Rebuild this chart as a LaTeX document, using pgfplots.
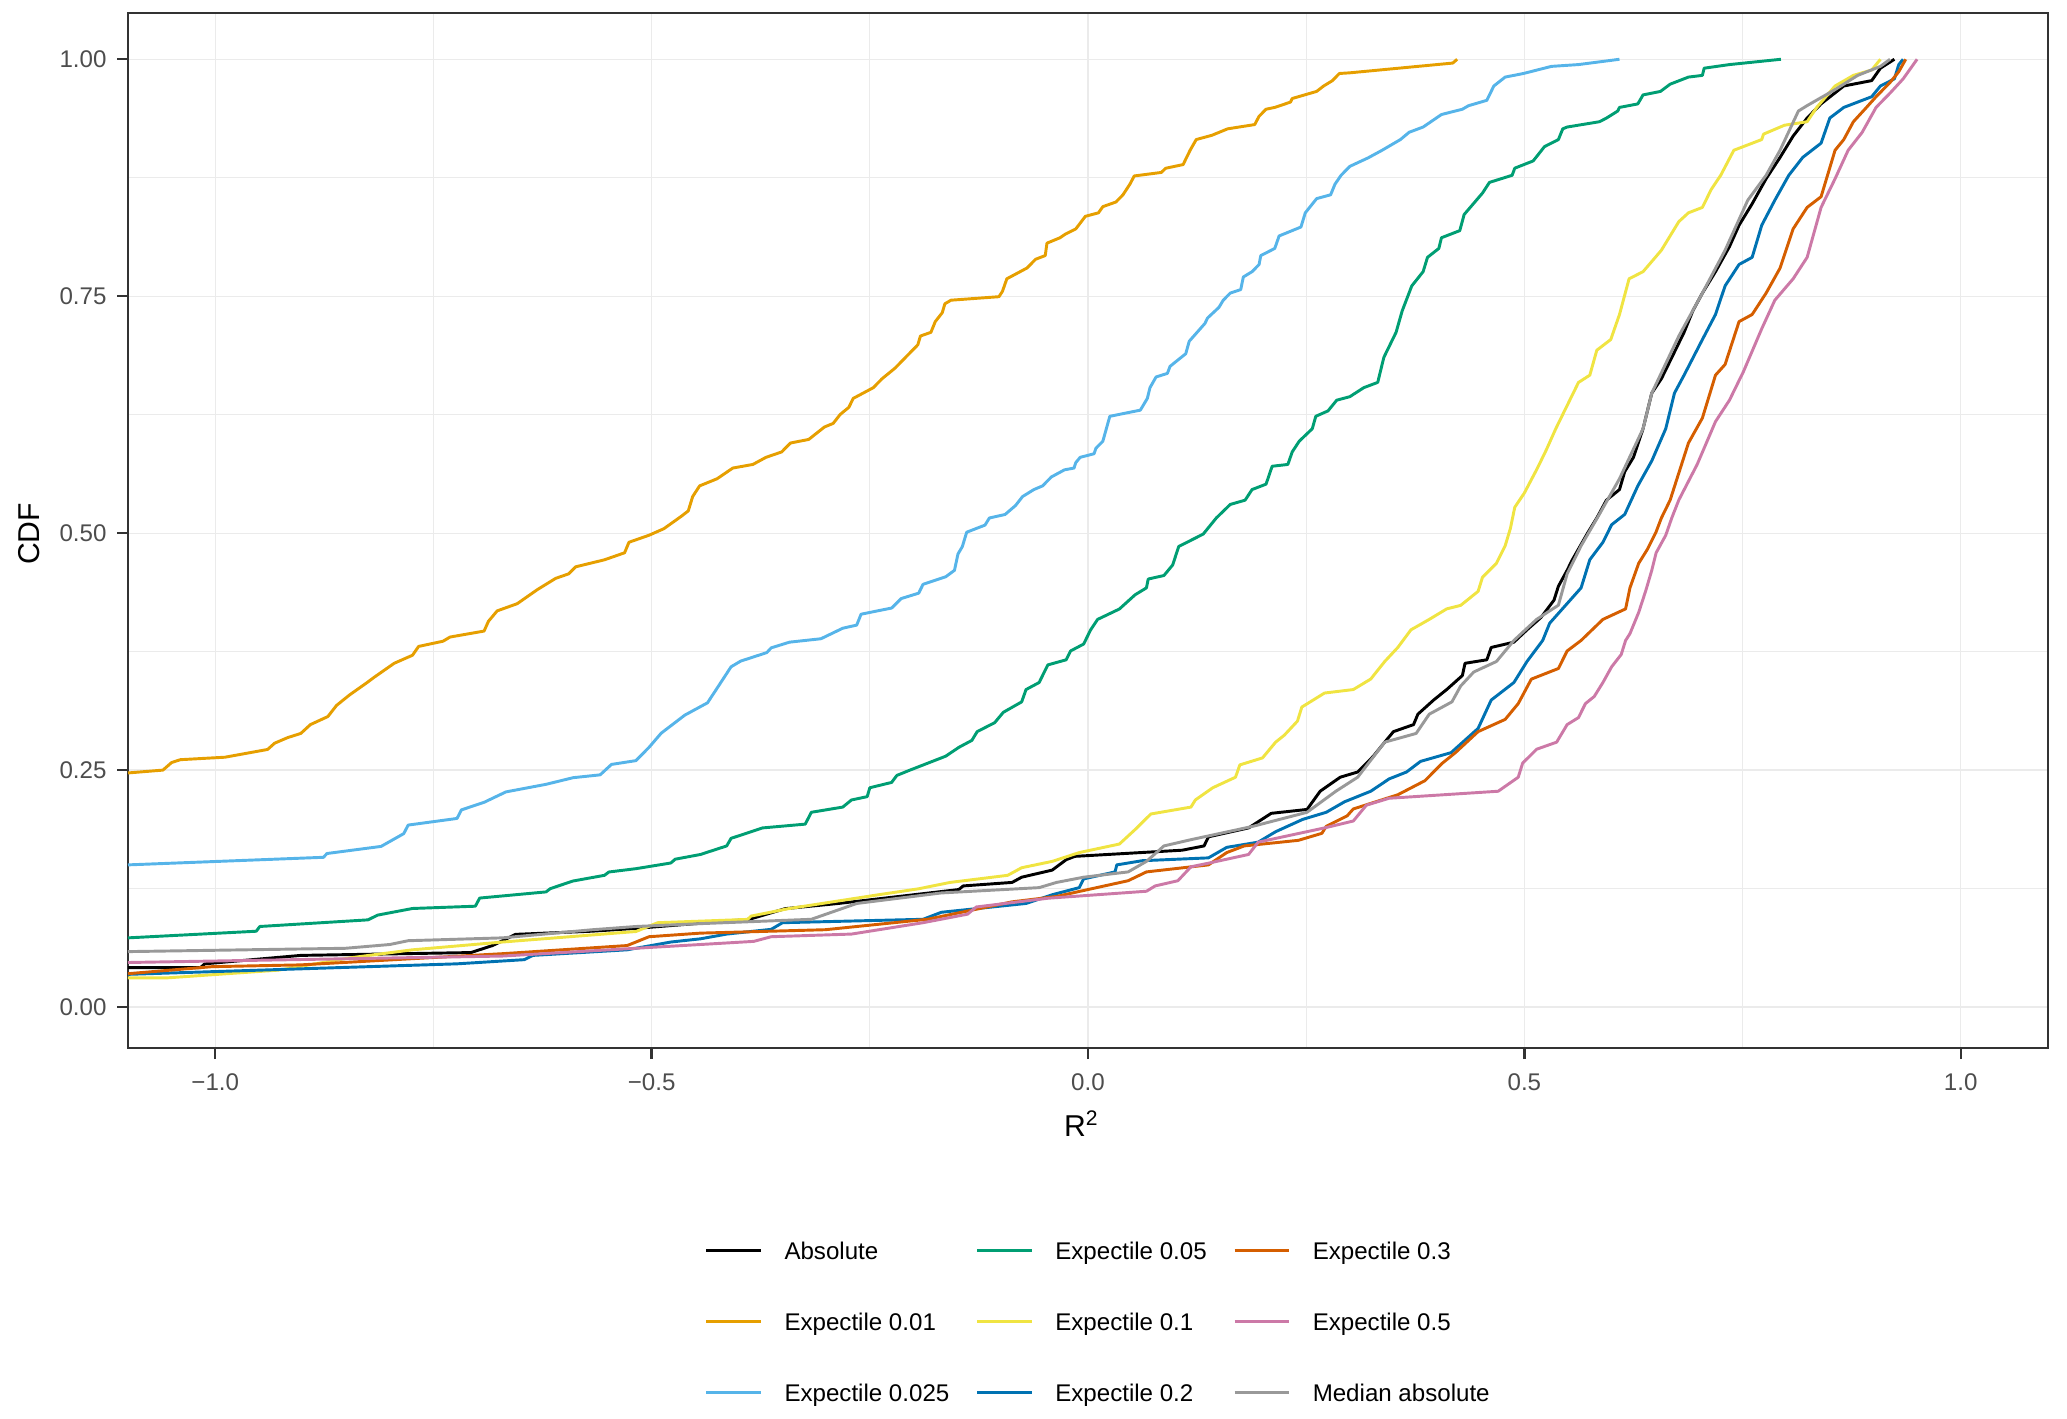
\documentclass[border=0pt]{standalone}
\usepackage{fontspec}
\setmainfont{Liberation Sans}
\usepackage{pgfplots}
\pgfplotsset{compat=1.18}
\usetikzlibrary{calc}
\definecolor{grey20}{HTML}{333333}
\definecolor{grey30}{HTML}{4D4D4D}
\definecolor{grey92}{HTML}{EBEBEB}
\definecolor{cAbs}{HTML}{000000}
\definecolor{cA}{HTML}{E69F00}
\definecolor{cB}{HTML}{56B4E9}
\definecolor{cC}{HTML}{009E73}
\definecolor{cD}{HTML}{F0E442}
\definecolor{cE}{HTML}{0072B2}
\definecolor{cF}{HTML}{D55E00}
\definecolor{cG}{HTML}{CC79A7}
\definecolor{cMed}{HTML}{999999}
\begin{document}
\begin{tikzpicture}
\begin{axis}[
  scale only axis, width=700.8pt, height=377.8pt,
  xmin=-1.1, xmax=1.1, ymin=-0.0435, ymax=1.0486,
  xtick={-1,-0.5,0,0.5,1}, xticklabels={−1.0,−0.5,0.0,0.5,1.0},
  ytick={0,0.25,0.5,0.75,1}, yticklabels={0.00,0.25,0.50,0.75,1.00},
  minor xtick={-0.75,-0.25,0.25,0.75},
  minor ytick={0.125,0.375,0.625,0.875},
  grid=both,
  major grid style={draw=grey92, line width=0.45pt},
  minor grid style={draw=grey92, line width=0.3pt},
  axis line style={draw=grey20, line width=0.85pt},
  tick pos=left, tick align=outside,
  major tick length=4pt, minor tick length=0pt,
  tick style={draw=grey20, line width=0.85pt},
  ticklabel style={font=\fontsize{8.8}{10}\selectfont, text=grey30},
  xticklabel style={anchor=north, inner sep=0pt, text height=6.3pt, text depth=0pt},
  yticklabel style={anchor=east, inner sep=0pt},
  xticklabel shift=4.76pt, yticklabel shift=3.67pt,
  xlabel={R\textsuperscript{2}}, ylabel={CDF},
  label style={font=\fontsize{11}{13}\selectfont, text=black},
  xlabel style={at={(axis description cs:0.4966,-0.085)}, anchor=base, inner sep=0pt},
  ylabel style={at={(axis description cs:-0.0516,0.497)}, anchor=center, inner sep=0pt},
  legend columns=3, transpose legend,
  legend cell align=left,
  legend style={at={(axis description cs:0.3005,-0.1872)}, anchor=north west,
    draw=none, fill=none, inner sep=0pt, outer sep=0pt,
    font=\fontsize{8.8}{10}\selectfont,
    row sep=17.6pt,
    nodes={inner sep=0pt, text height=6.4pt, text depth=1.9pt},
    cells={anchor=base west},
    /tikz/every odd column/.append style={column sep=7.96pt},
    /tikz/every even column/.append style={column sep=9.65pt}},
  legend image code/.code={\draw[#1, line width=1.07pt] (0pt,3.15pt) -- (20pt,3.15pt);},
  every axis plot/.append style={line width=1.07pt, line join=round, no markers},
]
\addplot[cAbs] coordinates {(-1.1,0.0416) (-1.017,0.0416) (-1.012,0.0456) (-0.902,0.0545) (-0.707,0.0575) (-0.682,0.065) (-0.656,0.0767) (-0.569,0.080) (-0.518,0.083) (-0.388,0.0926) (-0.347,0.1038) (-0.286,0.1093) (-0.148,0.124) (-0.143,0.1278) (-0.087,0.1315) (-0.076,0.137) (-0.041,0.1445) (-0.025,0.1555) (-0.015,0.159) (0.108,0.1655) (0.133,0.170) (0.138,0.1796) (0.184,0.189) (0.210,0.2044) (0.251,0.2085) (0.266,0.2277) (0.289,0.2425) (0.309,0.248) (0.327,0.2647) (0.340,0.2795) (0.350,0.2906) (0.373,0.298) (0.378,0.309) (0.396,0.3239) (0.411,0.335) (0.429,0.3498) (0.432,0.3627) (0.457,0.3664) (0.462,0.3794) (0.488,0.385) (0.503,0.398) (0.519,0.411) (0.534,0.4294) (0.539,0.444) (0.549,0.4608) (0.555,0.472) (0.573,0.501) (0.583,0.516) (0.594,0.5348) (0.609,0.546) (0.615,0.5649) (0.625,0.58) (0.636,0.6102) (0.646,0.6478) (0.657,0.6629) (0.667,0.6817) (0.683,0.7119) (0.693,0.7345) (0.704,0.7533) (0.719,0.7759) (0.735,0.8023) (0.746,0.8249) (0.761,0.8475) (0.777,0.874) (0.793,0.8965) (0.808,0.919) (0.824,0.938) (0.840,0.953) (0.866,0.9718) (0.898,0.9775) (0.908,0.9906) (0.924,1.0)};
\addlegendentry{Absolute}
\addplot[cA] coordinates {(-1.1,0.247) (-1.06,0.25) (-1.05,0.258) (-1.04,0.261) (-0.989,0.2636) (-0.94,0.2718) (-0.932,0.2784) (-0.917,0.2843) (-0.902,0.2887) (-0.891,0.298) (-0.871,0.3065) (-0.861,0.3183) (-0.846,0.3294) (-0.826,0.3424) (-0.818,0.3479) (-0.795,0.3627) (-0.774,0.3712) (-0.767,0.3805) (-0.739,0.386) (-0.731,0.3904) (-0.692,0.3967) (-0.687,0.407) (-0.677,0.418) (-0.654,0.4256) (-0.631,0.4404) (-0.610,0.4523) (-0.595,0.4571) (-0.587,0.4645) (-0.554,0.4719) (-0.531,0.4793) (-0.526,0.4904) (-0.503,0.4978) (-0.486,0.5047) (-0.466,0.5178) (-0.458,0.5235) (-0.453,0.5386) (-0.445,0.5499) (-0.425,0.5574) (-0.407,0.5687) (-0.384,0.5725) (-0.369,0.58) (-0.351,0.5857) (-0.341,0.5951) (-0.320,0.5989) (-0.302,0.612) (-0.292,0.6158) (-0.284,0.6252) (-0.274,0.6328) (-0.269,0.6422) (-0.246,0.6535) (-0.236,0.6629) (-0.221,0.6742) (-0.205,0.6893) (-0.195,0.6987) (-0.192,0.708) (-0.180,0.7119) (-0.175,0.7232) (-0.167,0.7326) (-0.164,0.742) (-0.157,0.7458) (-0.102,0.7495) (-0.098,0.7552) (-0.093,0.7684) (-0.070,0.7797) (-0.060,0.789) (-0.049,0.7929) (-0.047,0.806) (-0.032,0.8117) (-0.026,0.8155) (-0.014,0.821) (-0.003,0.8343) (0.012,0.838) (0.017,0.8445) (0.032,0.8494) (0.040,0.8569) (0.048,0.8682) (0.053,0.8769) (0.084,0.8806) (0.089,0.885) (0.109,0.8889) (0.117,0.904) (0.124,0.9153) (0.142,0.9198) (0.160,0.9266) (0.191,0.9311) (0.196,0.9398) (0.204,0.9473) (0.214,0.9492) (0.232,0.9548) (0.234,0.9586) (0.262,0.9661) (0.270,0.9718) (0.280,0.9774) (0.288,0.985) (0.300,0.9857) (0.418,0.996) (0.423,1.0)};
\addlegendentry{Expectile 0.01}
\addplot[cB] coordinates {(-1.1,0.150) (-0.876,0.158) (-0.872,0.162) (-0.81,0.1695) (-0.784,0.183) (-0.779,0.192) (-0.723,0.199) (-0.718,0.208) (-0.692,0.216) (-0.667,0.227) (-0.621,0.235) (-0.59,0.242) (-0.559,0.245) (-0.546,0.256) (-0.518,0.260) (-0.503,0.274) (-0.489,0.289) (-0.462,0.308) (-0.436,0.321) (-0.426,0.335) (-0.409,0.359) (-0.398,0.365) (-0.368,0.374) (-0.363,0.379) (-0.342,0.385) (-0.306,0.3886) (-0.281,0.3997) (-0.265,0.403) (-0.260,0.4145) (-0.225,0.421) (-0.214,0.431) (-0.194,0.4367) (-0.189,0.446) (-0.163,0.454) (-0.153,0.4608) (-0.149,0.478) (-0.144,0.4858) (-0.139,0.501) (-0.118,0.5085) (-0.113,0.516) (-0.095,0.5197) (-0.083,0.5292) (-0.075,0.5386) (-0.062,0.546) (-0.052,0.5499) (-0.042,0.5593) (-0.027,0.5668) (-0.016,0.5687) (-0.014,0.5744) (-0.009,0.58) (0.007,0.5838) (0.009,0.5895) (0.017,0.597) (0.025,0.6233) (0.060,0.6298) (0.068,0.6422) (0.071,0.6535) (0.078,0.6648) (0.091,0.6686) (0.094,0.676) (0.112,0.6893) (0.116,0.7025) (0.134,0.7213) (0.137,0.727) (0.150,0.7382) (0.155,0.7458) (0.163,0.7533) (0.175,0.757) (0.178,0.7703) (0.188,0.7759) (0.196,0.7834) (0.198,0.7929) (0.214,0.8004) (0.219,0.8136) (0.244,0.823) (0.249,0.838) (0.262,0.853) (0.278,0.857) (0.283,0.8682) (0.290,0.8776) (0.300,0.887) (0.321,0.896) (0.337,0.904) (0.358,0.9153) (0.368,0.923) (0.384,0.9285) (0.405,0.9417) (0.429,0.9473) (0.436,0.951) (0.457,0.9567) (0.465,0.9718) (0.478,0.9812) (0.499,0.985) (0.531,0.9925) (0.562,0.9944) (0.609,1.0)};
\addlegendentry{Expectile 0.025}
\addplot[cC] coordinates {(-1.1,0.073) (-0.953,0.080) (-0.949,0.085) (-0.825,0.092) (-0.814,0.097) (-0.774,0.104) (-0.702,0.1064) (-0.697,0.115) (-0.621,0.1215) (-0.616,0.125) (-0.590,0.133) (-0.554,0.139) (-0.549,0.1425) (-0.518,0.146) (-0.478,0.152) (-0.473,0.156) (-0.444,0.161) (-0.414,0.170) (-0.409,0.178) (-0.373,0.189) (-0.324,0.193) (-0.317,0.2055) (-0.281,0.211) (-0.271,0.2185) (-0.253,0.222) (-0.250,0.2314) (-0.225,0.237) (-0.219,0.2444) (-0.204,0.25) (-0.163,0.2647) (-0.148,0.274) (-0.133,0.2814) (-0.127,0.2906) (-0.107,0.3) (-0.097,0.311) (-0.076,0.322) (-0.071,0.335) (-0.056,0.3424) (-0.046,0.361) (-0.025,0.3664) (-0.020,0.3757) (-0.005,0.383) (0.003,0.3979) (0.011,0.409) (0.036,0.420) (0.054,0.435) (0.067,0.4423) (0.069,0.4516) (0.087,0.4553) (0.097,0.4664) (0.104,0.486) (0.132,0.499) (0.147,0.516) (0.163,0.5303) (0.180,0.5348) (0.188,0.546) (0.204,0.5517) (0.211,0.5706) (0.229,0.5725) (0.234,0.5857) (0.242,0.597) (0.257,0.6102) (0.261,0.6233) (0.275,0.629) (0.285,0.6403) (0.300,0.644) (0.316,0.6535) (0.332,0.6591) (0.339,0.6855) (0.353,0.7119) (0.360,0.7345) (0.371,0.7609) (0.384,0.7759) (0.389,0.791) (0.402,0.8004) (0.405,0.8117) (0.426,0.8192) (0.431,0.8362) (0.452,0.8588) (0.460,0.8701) (0.486,0.8776) (0.489,0.8851) (0.510,0.8927) (0.515,0.8984) (0.523,0.9078) (0.539,0.9153) (0.544,0.9266) (0.549,0.9285) (0.586,0.9341) (0.594,0.9379) (0.607,0.9454) (0.609,0.9492) (0.630,0.9529) (0.636,0.9624) (0.656,0.9661) (0.667,0.9737) (0.688,0.9812) (0.704,0.983) (0.706,0.9906) (0.735,0.9944) (0.794,1.0)};
\addlegendentry{Expectile 0.05}
\addplot[cD] coordinates {(-1.1,0.0308) (-1.055,0.0308) (-0.927,0.039) (-0.845,0.052) (-0.774,0.0604) (-0.671,0.0686) (-0.518,0.0797) (-0.493,0.089) (-0.39,0.0925) (-0.386,0.096) (-0.344,0.1037) (-0.240,0.1185) (-0.194,0.1248) (-0.158,0.1315) (-0.092,0.139) (-0.076,0.147) (-0.041,0.1537) (-0.010,0.163) (0.036,0.172) (0.056,0.189) (0.072,0.2037) (0.118,0.211) (0.123,0.2185) (0.143,0.2314) (0.169,0.2425) (0.174,0.2555) (0.200,0.2629) (0.215,0.2795) (0.225,0.2869) (0.240,0.3017) (0.245,0.3165) (0.271,0.3313) (0.304,0.335) (0.324,0.3461) (0.340,0.3646) (0.355,0.3794) (0.370,0.398) (0.391,0.409) (0.411,0.4201) (0.427,0.4238) (0.447,0.4386) (0.452,0.4534) (0.468,0.4682) (0.478,0.4867) (0.484,0.505) (0.489,0.5273) (0.500,0.5424) (0.515,0.5687) (0.525,0.5876) (0.536,0.6102) (0.546,0.629) (0.562,0.659) (0.575,0.6667) (0.583,0.693) (0.599,0.7043) (0.609,0.7307) (0.620,0.7684) (0.636,0.7759) (0.657,0.7985) (0.677,0.8287) (0.688,0.838) (0.704,0.8437) (0.714,0.8625) (0.725,0.8776) (0.740,0.904) (0.772,0.9153) (0.774,0.921) (0.798,0.9304) (0.824,0.9341) (0.835,0.9492) (0.856,0.9718) (0.877,0.983) (0.898,0.9887) (0.908,1.0)};
\addlegendentry{Expectile 0.1}
\addplot[cE] coordinates {(-1.1,0.0345) (-0.723,0.0456) (-0.646,0.050) (-0.636,0.0545) (-0.528,0.0604) (-0.478,0.0686) (-0.444,0.072) (-0.414,0.077) (-0.363,0.082) (-0.350,0.089) (-0.189,0.0926) (-0.168,0.100) (-0.071,0.1093) (-0.041,0.1185) (-0.010,0.126) (-0.005,0.1352) (0.031,0.1426) (0.033,0.150) (0.062,0.1544) (0.138,0.1574) (0.159,0.1685) (0.195,0.174) (0.215,0.185) (0.246,0.198) (0.273,0.2055) (0.294,0.2166) (0.324,0.2277) (0.345,0.2407) (0.365,0.248) (0.381,0.2592) (0.416,0.2684) (0.447,0.294) (0.462,0.3239) (0.488,0.3424) (0.503,0.3646) (0.521,0.3868) (0.529,0.405) (0.549,0.4257) (0.565,0.4423) (0.575,0.472) (0.590,0.4904) (0.600,0.5089) (0.615,0.5198) (0.630,0.5499) (0.646,0.5763) (0.662,0.6102) (0.672,0.6478) (0.683,0.6667) (0.704,0.7043) (0.719,0.7307) (0.730,0.7609) (0.746,0.7835) (0.761,0.791) (0.772,0.8249) (0.787,0.8513) (0.803,0.8776) (0.819,0.8965) (0.840,0.9115) (0.850,0.938) (0.866,0.9492) (0.898,0.9605) (0.908,0.9718) (0.924,0.9793) (0.929,0.9944) (0.934,1.0)};
\addlegendentry{Expectile 0.2}
\addplot[cF] coordinates {(-1.1,0.0352) (-1.004,0.0426) (-0.902,0.0445) (-0.671,0.0563) (-0.528,0.0649) (-0.503,0.0742) (-0.444,0.078) (-0.301,0.0816) (-0.184,0.0926) (-0.087,0.111) (-0.036,0.1167) (0.046,0.1333) (0.067,0.1426) (0.138,0.150) (0.159,0.163) (0.179,0.170) (0.241,0.1759) (0.268,0.1833) (0.273,0.1907) (0.297,0.2018) (0.304,0.209) (0.355,0.224) (0.386,0.2388) (0.406,0.2573) (0.421,0.2684) (0.447,0.2906) (0.478,0.3035) (0.493,0.3202) (0.508,0.346) (0.539,0.3572) (0.549,0.3757) (0.565,0.3868) (0.590,0.409) (0.616,0.4201) (0.621,0.4423) (0.631,0.4682) (0.641,0.483) (0.651,0.5015) (0.657,0.516) (0.667,0.5348) (0.688,0.5951) (0.704,0.6215) (0.719,0.6667) (0.730,0.678) (0.746,0.7232) (0.761,0.7307) (0.777,0.7533) (0.793,0.7797) (0.808,0.8211) (0.824,0.8437) (0.840,0.855) (0.856,0.904) (0.866,0.9153) (0.877,0.9341) (0.892,0.9492) (0.903,0.9605) (0.919,0.9755) (0.929,0.9869) (0.937,1.0)};
\addlegendentry{Expectile 0.3}
\addplot[cG] coordinates {(-1.1,0.047) (-0.671,0.0538) (-0.444,0.066) (-0.383,0.0693) (-0.363,0.0742) (-0.271,0.077) (-0.189,0.089) (-0.138,0.098) (-0.128,0.1056) (-0.046,0.1148) (0.067,0.1222) (0.077,0.1278) (0.103,0.1333) (0.118,0.148) (0.138,0.1518) (0.184,0.161) (0.195,0.174) (0.271,0.189) (0.304,0.1963) (0.319,0.213) (0.345,0.2203) (0.470,0.2277) (0.493,0.2425) (0.498,0.2573) (0.514,0.272) (0.537,0.2795) (0.549,0.298) (0.562,0.3054) (0.570,0.3202) (0.580,0.3276) (0.590,0.3424) (0.600,0.359) (0.611,0.372) (0.616,0.3868) (0.621,0.394) (0.631,0.4164) (0.639,0.439) (0.646,0.4608) (0.651,0.4793) (0.662,0.4978) (0.669,0.5163) (0.677,0.535) (0.698,0.5725) (0.719,0.6177) (0.735,0.6403) (0.751,0.6704) (0.772,0.7157) (0.787,0.7458) (0.808,0.7684) (0.824,0.791) (0.840,0.8437) (0.856,0.8739) (0.871,0.904) (0.887,0.9228) (0.903,0.9492) (0.919,0.9643) (0.934,0.9793) (0.950,1.0)};
\addlegendentry{Expectile 0.5}
\addplot[cMed] coordinates {(-1.1,0.0585) (-0.851,0.062) (-0.800,0.066) (-0.779,0.070) (-0.671,0.073) (-0.569,0.0815) (-0.518,0.085) (-0.444,0.088) (-0.317,0.0926) (-0.265,0.1093) (-0.168,0.1204) (-0.056,0.126) (-0.036,0.1315) (-0.005,0.137) (0.046,0.1426) (0.067,0.1537) (0.087,0.170) (0.118,0.1766) (0.189,0.1907) (0.251,0.2055) (0.284,0.2277) (0.309,0.2425) (0.340,0.2795) (0.376,0.2887) (0.391,0.309) (0.417,0.322) (0.427,0.3387) (0.442,0.3535) (0.468,0.3646) (0.488,0.3868) (0.514,0.409) (0.539,0.424) (0.549,0.457) (0.565,0.4867) (0.586,0.52) (0.609,0.5574) (0.636,0.6102) (0.646,0.6478) (0.677,0.708) (0.704,0.7533) (0.730,0.7985) (0.756,0.8513) (0.777,0.8776) (0.793,0.904) (0.814,0.9454) (0.824,0.9511) (0.856,0.968) (0.882,0.983) (0.908,0.9925) (0.919,1.0)};
\addlegendentry{Median absolute}
\coordinate (ll) at (rel axis cs:0,0);
\coordinate (ur) at (rel axis cs:1,1);
\end{axis}
\pgfresetboundingbox
\path[use as bounding box] ($(ll)+(-46.72pt,-135.05pt)$) rectangle ($(ur)+(6.94pt,4.82pt)$);
\end{tikzpicture}
\end{document}
